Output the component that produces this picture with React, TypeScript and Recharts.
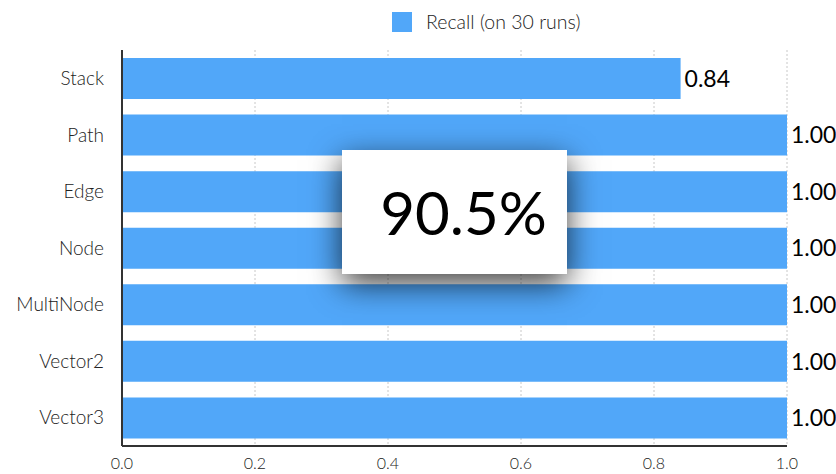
import React from "react"
import {
  BarChart,
  Bar,
  XAxis,
  YAxis,
  CartesianGrid,
  Legend,
  LabelList,
} from "recharts"

const categories = ["Stack", "Path", "Edge", "Node", "MultiNode", "Vector2", "Vector3"]
const recall = [0.84, 1.0, 1.0, 1.0, 1.0, 1.0, 1.0]
const xTicks = [0, 0.2, 0.4, 0.6, 0.8, 1.0]
const seriesName = "Recall (on 30 runs)"
const overall = "90.5%"

const data = categories.map((name, i) => ({ name, recall: recall[i] }))

const FONT = "Lato, 'Noto Sans', sans-serif"
const BLUE = "#51A7F9"
const TEXT = "#222"

function LegendBox() {
  return (
    <div style={{ display: "flex", justifyContent: "flex-start", alignItems: "center", paddingLeft: 392, fontFamily: FONT }}>
      <span style={{ width: 20, height: 20, background: BLUE, display: "inline-block", marginRight: 14 }} />
      <span style={{ fontSize: 19.5, color: TEXT, fontWeight: 300 }}>{seriesName}</span>
    </div>
  )
}

export default function App() {
  return (
    <div style={{ position: "relative", width: 836, height: 474, fontFamily: FONT }}>
      <style>{`body{margin:0}`}</style>
      <BarChart
        width={836}
        height={474}
        data={data}
        layout="vertical"
        margin={{ top: 10, right: 49, bottom: 0, left: 0 }}
      >
        <CartesianGrid horizontal={false} stroke="#c8c8c8" strokeDasharray="2 2" />
        <XAxis
          type="number"
          domain={[0, 1]}
          ticks={xTicks}
          tickFormatter={(v: number) => v.toFixed(1)}
          tickLine={false}
          tickSize={0}
          tickMargin={12}
          height={28}
          axisLine={{ stroke: "#333", strokeWidth: 2 }}
          tick={{ fontSize: 16, fill: TEXT, fontFamily: FONT, fontWeight: 300 }}
        />
        <YAxis
          type="category"
          dataKey="name"
          width={122}
          tickLine={false}
          tickSize={0}
          tickMargin={18}
          axisLine={{ stroke: "#333", strokeWidth: 2 }}
          tick={{ fontSize: 19, fill: TEXT, fontFamily: FONT, fontWeight: 300 }}
        />
        <Legend verticalAlign="top" height={40} content={<LegendBox />} wrapperStyle={{ left: 0, width: 836 }} />
        <Bar dataKey="recall" name={seriesName} fill={BLUE} barSize={41} isAnimationActive={false}>
          <LabelList
            dataKey="recall"
            position="right"
            offset={4}
            formatter={(v: number) => v.toFixed(2)}
            style={{ fontSize: 23, fill: "#000", fontFamily: FONT }}
          />
        </Bar>
      </BarChart>
      <div
        style={{
          position: "absolute",
          left: 342,
          top: 150,
          width: 225,
          height: 124,
          background: "#fff",
          boxShadow: "0 10px 30px rgba(0,0,0,0.75)",
          display: "flex",
          alignItems: "center",
          justifyContent: "center",
          paddingLeft: 18,
          boxSizing: "border-box",
          fontSize: 60,
          color: "#000",
        }}
      >
        {overall}
      </div>
    </div>
  )
}
